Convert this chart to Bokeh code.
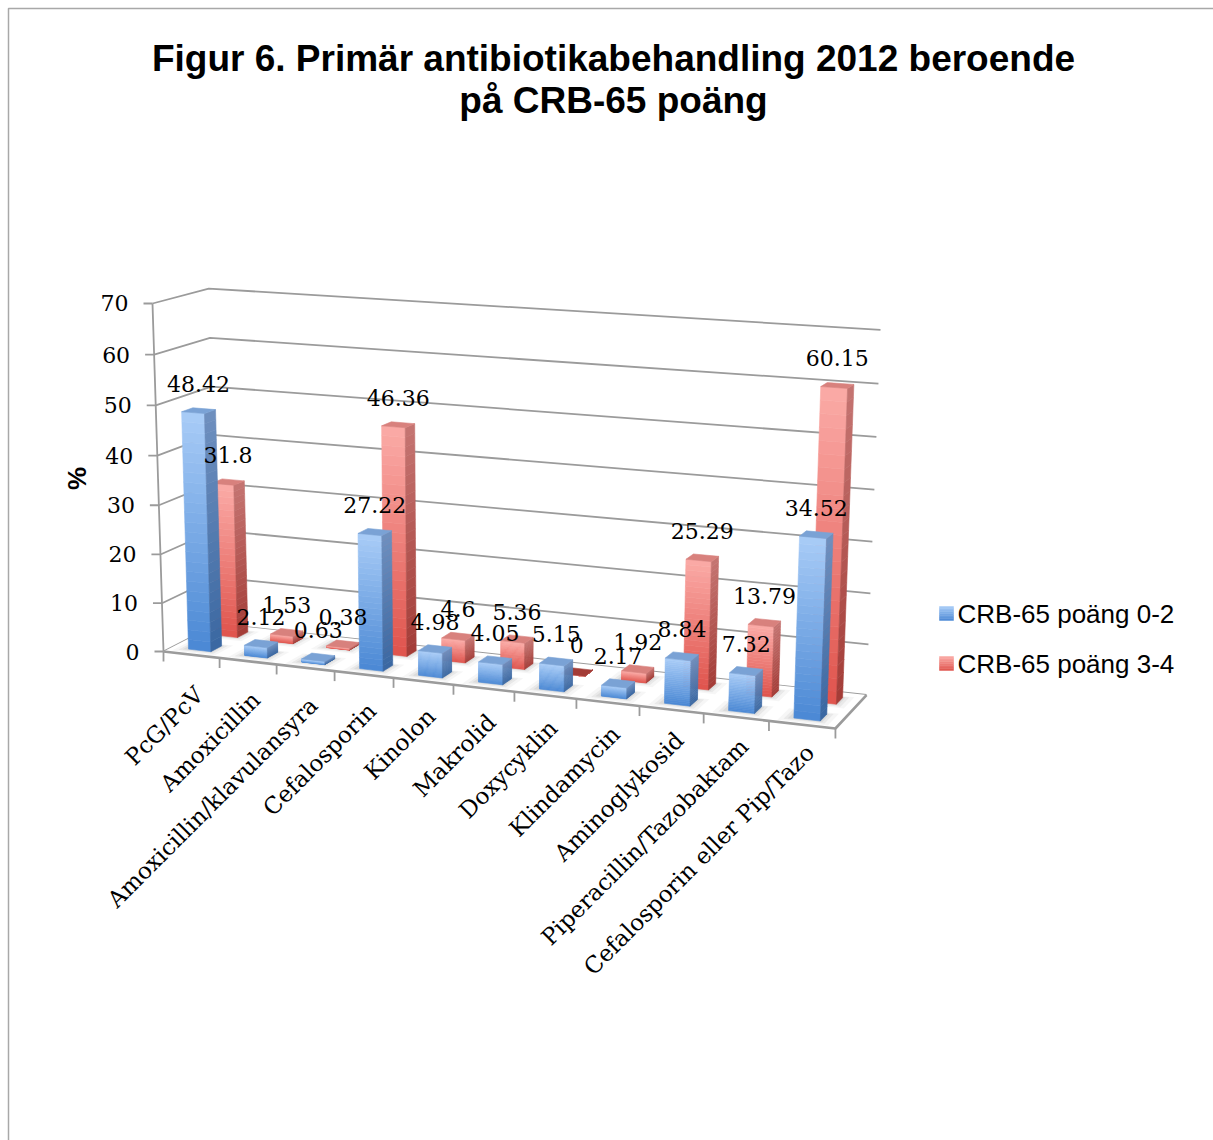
import math
from bokeh.plotting import figure
from bokeh.models import Range1d, ColumnDataSource
from bokeh.core.properties import value
from bokeh.embed import file_html
from bokeh.resources import INLINE

# ---- data -------------------------------------------------------------
categories = ["PcG/PcV", "Amoxicillin", "Amoxicillin/klavulansyra", "Cefalosporin",
              "Kinolon", "Makrolid", "Doxycyklin", "Klindamycin", "Aminoglykosid",
              "Piperacillin/Tazobaktam", "Cefalosporin eller Pip/Tazo"]
crb_0_2 = [48.42, 2.12, 0.63, 27.22, 4.98, 4.05, 5.15, 2.17, 8.84, 7.32, 34.52]
crb_3_4 = [31.8, 1.53, 0.38, 46.36, 4.6, 5.36, 0, 1.92, 25.29, 13.79, 60.15]
series_names = ["CRB-65 poäng 0-2", "CRB-65 poäng 3-4"]
y_ticks = [0, 10, 20, 30, 40, 50, 60, 70]
title_lines = ["Figur 6. Primär antibiotikabehandling 2012 beroende", "på CRB-65 poäng"]
y_title = "%"

# ---- page / projection ------------------------------------------------
W, H = 1213, 1140
NCAT = len(categories)
VMAX = y_ticks[-1]


def proj(X, Z, V):
    """Perspective view of the 3-D box: X along categories, Z into depth
    (0 = front, 1 = back), V = value. Returns page coordinates (y up)."""
    w = 1 - 0.00809 * X + 0.0396 * Z - 0.000477 * V
    sx = (163 + 54.33 * X + 62.6 * Z - 0.2296 * V) / w
    sy = (651 + 1.11 * X - 3.0 * Z - 5.116 * V) / w
    return sx, H - sy


def mix(c1, c2, t):
    a = [int(c1[k:k + 2], 16) for k in (1, 3, 5)]
    b = [int(c2[k:k + 2], 16) for k in (1, 3, 5)]
    return "#%02x%02x%02x" % tuple(round(a[k] + (b[k] - a[k]) * t) for k in range(3))


p = figure(width=W, height=H, x_range=Range1d(0, W), y_range=Range1d(0, H),
           output_backend="svg", toolbar_location=None, min_border=0,
           x_axis_type=None, y_axis_type=None)
p.grid.visible = False
p.outline_line_color = None
p.background_fill_color = "white"
p.border_fill_color = "white"

SERIF = value("DejaVu Serif")
SANS = value("Liberation Sans")
GRID = "#9b9b9b"

# chart area border
p.line(x=[8, 8, W + 10], y=[-10, H - 8, H - 8], line_color="#a8a8a8", line_width=1.5)

# ---- walls: gridlines on the left and back wall -----------------------
gx, gy = [], []
for v in y_ticks:
    pts = [proj(0, 0, v), proj(0, 1, v), proj(NCAT, 1, v)]
    gx.append([q[0] for q in pts])
    gy.append([q[1] for q in pts])
p.multi_line(gx, gy, line_color=GRID, line_width=1.8)

# vertical axis line and ticks
a0, a1 = proj(0, 0, 0), proj(0, 0, VMAX)
p.line([a0[0], a1[0]], [a0[1], a1[1]], line_color=GRID, line_width=1.8)
tx, ty = [], []
for v in y_ticks:
    ax, ay = proj(0, 0, v)
    tx.append([ax - 9, ax])
    ty.append([ay, ay])
p.multi_line(tx, ty, line_color=GRID, line_width=1.8)

ylab = ColumnDataSource(dict(
    x=[proj(0, 0, v)[0] - 24 for v in y_ticks],
    y=[proj(0, 0, v)[1] for v in y_ticks],
    t=[str(v) for v in y_ticks]))
p.text("x", "y", "t", source=ylab, text_font=SERIF, text_font_size="22px",
       text_align="right", text_baseline="middle", text_color="black")

# ---- floor -------------------------------------------------------------
floor = [proj(0, 0, 0), proj(NCAT, 0, 0), proj(NCAT, 1, 0), proj(0, 1, 0)]
p.patch([q[0] for q in floor], [q[1] for q in floor], fill_color="white",
        line_color=None)
edge = [proj(0, 0, 0), proj(NCAT, 0, 0), proj(NCAT, 1, 0)]
p.line([q[0] for q in edge], [q[1] for q in edge], line_color=GRID, line_width=2.6)

ctx, cty = [], []
for k in range(NCAT + 1):
    cx, cy = proj(k, 0, 0)
    ctx.append([cx, cx])
    cty.append([cy, cy - 10])
p.multi_line(ctx, cty, line_color=GRID, line_width=1.8)

# ---- bars ----------------------------------------------------------------
rows = [
    dict(vals=crb_3_4, z0=0.65, z1=0.85,
         front=("#df534c", "#fbaba7"), side=("#a33c37", "#c57572"), top="#d8817d"),
    dict(vals=crb_0_2, z0=0.15, z1=0.35,
         front=("#4a88d4", "#a9ccf7"), side=("#3a67a1", "#6f90bf"), top="#7aa2d5"),
]

sh = dict(xs=[], ys=[], a=[])
bars = dict(xs=[], ys=[], c=[])


def add(store, pts, **kw):
    q = [proj(*pt) for pt in pts]
    store["xs"].append([e[0] for e in q])
    store["ys"].append([e[1] for e in q])
    for key, val in kw.items():
        store[key].append(val)


NB = 24
for row in rows:
    z0, z1 = row["z0"], row["z1"]
    for i, v in enumerate(row["vals"]):
        x0, x1 = i + 0.3, i + 0.7
        if v > 0:
            for grow, alpha in ((0.16, 0.07), (0.09, 0.10), (0.04, 0.12)):
                add(sh, [(x0 - grow - 0.04, z0 - grow * 0.6, 0), (x1 + grow, z0 - grow * 0.6, 0),
                         (x1 + grow, z1 + grow * 0.3, 0), (x0 - grow - 0.04, z1 + grow * 0.3, 0)],
                    a=alpha)
        for k in range(NB):
            va, vb = v * k / NB, v * (k + 1) / NB
            t = (k + 0.5) / NB
            add(bars, [(x0, z0, va), (x1, z0, va), (x1, z0, vb), (x0, z0, vb)],
                c=mix(row["front"][0], row["front"][1], t))
            add(bars, [(x1, z0, va), (x1, z1, va), (x1, z1, vb), (x1, z0, vb)],
                c=mix(row["side"][0], row["side"][1], t))
        top_col = row["top"] if v > 0 else row["side"][0]
        add(bars, [(x0, z0, v), (x1, z0, v), (x1, z1, v), (x0, z1, v)], c=top_col)

p.patches("xs", "ys", source=ColumnDataSource(sh), fill_color="#7a7a7a",
          fill_alpha="a", line_color=None)
p.patches("xs", "ys", source=ColumnDataSource(bars), fill_color="c",
          line_color="c", line_width=0.6)

# ---- value labels ---------------------------------------------------------
lx, ly, lt = [], [], []
for row in rows:
    zc = (row["z0"] + row["z1"]) / 2
    for i, v in enumerate(row["vals"]):
        bx, by = proj(i + 0.5, zc, v)
        lx.append(bx)
        ly.append(by + 27)
        lt.append(f"{v:g}")
p.text(lx, ly, lt, text_font=SERIF, text_font_size="22px", text_align="center",
       text_baseline="middle", text_color="black")

# ---- category labels --------------------------------------------------------
cx_, cy_ = [], []
for i in range(NCAT):
    bx, by = proj(i + 0.5, 0, 0)
    cx_.append(bx + 8)
    cy_.append(by - (36 - 1.2 * i))
p.text(cx_, cy_, categories, text_font=SERIF, text_font_size="23px",
       text_align="right", text_baseline="middle", angle=math.pi / 4,
       text_color="black")

# ---- titles ----------------------------------------------------------------
p.text([613, 613], [H - 58, H - 100], title_lines, text_font=SANS,
       text_font_size="37px", text_font_style="bold", text_align="center",
       text_baseline="middle", text_color="black")
p.text([76], [H - 478], [y_title], text_font=SANS, text_font_size="26px",
       text_font_style="bold", text_align="center", text_baseline="middle",
       angle=math.pi / 2, text_color="black")

# ---- legend ----------------------------------------------------------------
leg_y = [613, 663]
mx, my, mc = [], [], []
for row, yc in zip(rows[::-1], leg_y):
    for k in range(8):
        ya = H - (yc + 7) + 14 * k / 8
        yb = H - (yc + 7) + 14 * (k + 1) / 8
        mx.append([939, 953, 953, 939])
        my.append([ya, ya, yb, yb])
        mc.append(mix(row["front"][0], row["front"][1], (k + 0.5) / 8))
p.patches(mx, my, fill_color=mc, line_color=mc, line_width=0.5)
p.text([957, 957], [H - leg_y[0], H - leg_y[1]], series_names, text_font=SANS,
       text_font_size="26px", text_align="left", text_baseline="middle",
       text_color="black")

open("out.html", "w").write(file_html(p, INLINE))
